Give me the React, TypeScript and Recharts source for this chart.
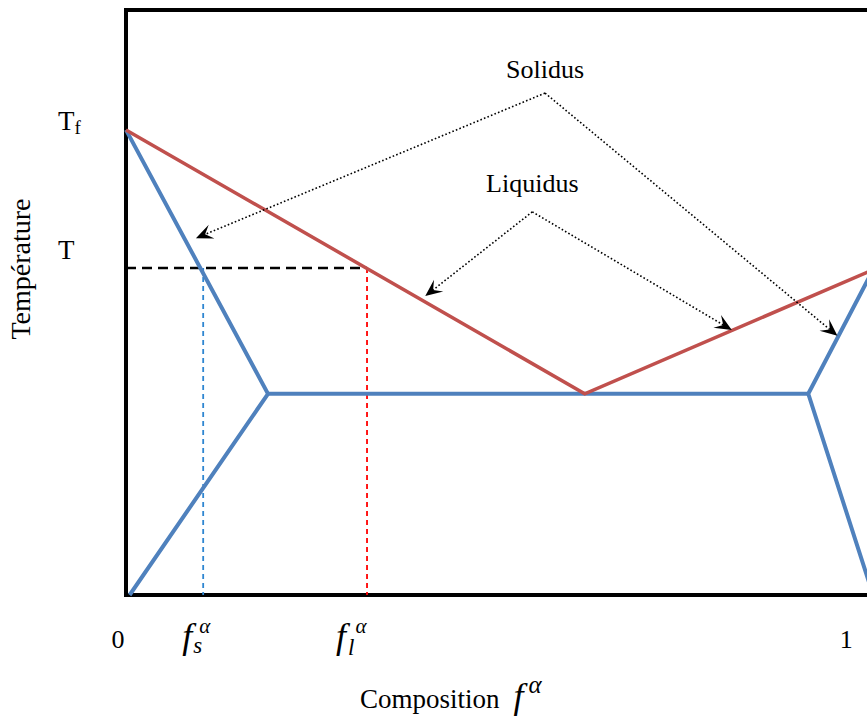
import {
  LineChart,
  Line,
  XAxis,
  YAxis,
  ReferenceLine,
  ReferenceArea,
  ReferenceDot,
} from 'recharts';

const SERIF = '"Liberation Serif", "Times New Roman", Times, serif';
const RED = '#C0504D';
const BLUE = '#4F81BD';

// composition axis runs a little past 1, temperature is in arbitrary units (0..100)
const X_MAX = 1.03;
const T_MAX = 100;

const T_F = 79.5; // melting point of the pure solvent
const T_CUT = 55.9; // isotherm T
const X_S = 0.106; // solid composition at T
const X_L = 0.331; // liquid composition at T

const LIQUIDUS_X = [0, 0.63, 1.026];
const LIQUIDUS_T = [79.5, 34.4, 55.6];

const SOLIDUS_LEFT_X = [0, 0.195, 0.005];
const SOLIDUS_LEFT_T = [79.5, 34.4, 0];

const EUTECTIC_X = [0.195, 0.937];
const EUTECTIC_T = [34.4, 34.4];

const SOLIDUS_RIGHT_X = [1.026, 0.937, 1.026];
const SOLIDUS_RIGHT_T = [55.6, 34.4, 0];

const X_TICKS = [0, X_S, X_L, 1];
const X_TICK_LABELS = ['0', 'f', 'f', '1'];
const X_TICK_SUBS = ['', 's', 'l', ''];

const Y_TICKS = [T_CUT, T_F];
const Y_TICK_LABELS = ['T', 'T'];
const Y_TICK_SUBS = ['', 'f'];

// annotation arrows: apex of the dotted lines and the arrow tips
const SOLIDUS_APEX = { x: 0.5755, t: 85.8 };
const SOLIDUS_TIPS = [
  { x: 0.096, t: 61.0 },
  { x: 0.977, t: 44.3 },
];
const LIQUIDUS_APEX = { x: 0.558, t: 65.5 };
const LIQUIDUS_TIPS = [
  { x: 0.411, t: 51.1 },
  { x: 0.832, t: 45.3 },
];

const toPoints = (xs: number[], ts: number[]) => xs.map((x, i) => ({ x, t: ts[i] }));

const liquidus = toPoints(LIQUIDUS_X, LIQUIDUS_T);
const solidusLeft = toPoints(SOLIDUS_LEFT_X, SOLIDUS_LEFT_T);
const eutectic = toPoints(EUTECTIC_X, EUTECTIC_T);
const solidusRight = toPoints(SOLIDUS_RIGHT_X, SOLIDUS_RIGHT_T);

function DottedArrow(props: any) {
  const { x1, y1, x2, y2 } = props;
  if ([x1, y1, x2, y2].some((v) => typeof v !== 'number' || isNaN(v))) return null;
  const a = Math.atan2(y2 - y1, x2 - x1);
  const c = Math.cos(a);
  const s = Math.sin(a);
  const len = 17;
  const half = 7.5;
  const notch = 10;
  const bx = x2 - len * c;
  const by = y2 - len * s;
  const nx = x2 - notch * c;
  const ny = y2 - notch * s;
  return (
    <g>
      <line
        x1={x1}
        y1={y1}
        x2={nx}
        y2={ny}
        stroke="#000"
        strokeWidth={1.6}
        strokeDasharray="1.6 2.2"
      />
      <path
        d={`M${x2},${y2} L${bx - half * s},${by + half * c} L${nx},${ny} L${bx + half * s},${by - half * c} Z`}
        fill="#000"
      />
    </g>
  );
}

function CompositionTick({ x, y, index }: any) {
  const base = y + 53;
  const sub = X_TICK_SUBS[index];
  if (!sub) {
    return (
      <text x={x - 8} y={base} textAnchor="middle" fontSize={26} fontFamily={SERIF} fill="#000">
        {X_TICK_LABELS[index]}
      </text>
    );
  }
  const isS = sub === 's';
  return (
    <text x={isS ? x - 21 : x - 31} y={base} fill="#000" fontFamily={SERIF} fontStyle="italic">
      <tspan fontSize={36}>{X_TICK_LABELS[index]}</tspan>
      <tspan fontSize={23} dx={isS ? 1 : 2} dy={isS ? 5 : 7}>
        {sub}
      </tspan>
      <tspan fontSize={21} dx={isS ? -3 : 1} dy={isS ? -20 : -22}>
        α
      </tspan>
    </text>
  );
}

function TemperatureTick({ y, index }: any) {
  const sub = Y_TICK_SUBS[index];
  return (
    <text x={58} y={sub ? y : y - 9} fill="#000" fontSize={27} fontFamily={SERIF}>
      {Y_TICK_LABELS[index]}
      {sub && (
        <tspan fontSize={19} dy={4}>
          {sub}
        </tspan>
      )}
    </text>
  );
}

function CompositionTitle() {
  return (
    <text x={360} y={708} fill="#000" fontSize={27} fontFamily={SERIF}>
      Composition
      <tspan fontStyle="italic" fontSize={36} dx={14}>
        f
      </tspan>
      <tspan fontStyle="italic" fontSize={25} dx={5} dy={-15}>
        α
      </tspan>
    </text>
  );
}

function TemperatureTitle() {
  return (
    <text
      x={30}
      y={269}
      fill="#000"
      fontSize={28}
      fontFamily={SERIF}
      textAnchor="middle"
      transform="rotate(-90, 30, 269)"
    >
      Température
    </text>
  );
}

function NoteLabel({ viewBox, text, offset }: any) {
  if (!viewBox) return null;
  return (
    <text
      x={viewBox.x + (viewBox.width || 0) / 2}
      y={viewBox.y - offset}
      textAnchor="middle"
      fill="#000"
      fontSize={26}
      fontFamily={SERIF}
    >
      {text}
    </text>
  );
}

export default function App() {
  return (
    <div
      style={{
        position: 'fixed',
        left: 0,
        top: 0,
        width: 867,
        height: 718,
        overflow: 'hidden',
        background: '#fff',
        fontFamily: SERIF,
      }}
    >
      <LineChart width={900} height={718} margin={{ top: 10, right: 24, bottom: 0, left: 0 }}>
        <XAxis
          type="number"
          dataKey="x"
          domain={[0, X_MAX]}
          ticks={X_TICKS}
          tick={<CompositionTick />}
          tickLine={false}
          axisLine={false}
          tickSize={0}
          tickMargin={0}
          height={123}
          interval={0}
          label={{ content: () => <CompositionTitle /> }}
        />
        <YAxis
          type="number"
          dataKey="t"
          domain={[0, T_MAX]}
          ticks={Y_TICKS}
          tick={<TemperatureTick />}
          tickLine={false}
          axisLine={false}
          tickSize={0}
          tickMargin={0}
          width={126}
          interval={0}
          label={{ content: () => <TemperatureTitle /> }}
        />

        <ReferenceLine
          segment={[
            { x: 0, y: T_CUT },
            { x: X_L, y: T_CUT },
          ]}
          stroke="#000"
          strokeWidth={2.6}
          strokeDasharray="10 6"
        />
        <ReferenceLine
          segment={[
            { x: X_S, y: T_CUT },
            { x: X_S, y: 0 },
          ]}
          stroke="#2E86D1"
          strokeWidth={1.8}
          strokeDasharray="5 4"
        />
        <ReferenceLine
          segment={[
            { x: X_L, y: T_CUT },
            { x: X_L, y: 0 },
          ]}
          stroke="#FF0000"
          strokeWidth={1.8}
          strokeDasharray="5 4"
        />

        <Line data={solidusLeft} dataKey="t" type="linear" stroke={BLUE} strokeWidth={4} dot={false} activeDot={false} isAnimationActive={false} />
        <Line data={eutectic} dataKey="t" type="linear" stroke={BLUE} strokeWidth={4} dot={false} activeDot={false} isAnimationActive={false} />
        <Line data={solidusRight} dataKey="t" type="linear" stroke={BLUE} strokeWidth={4} dot={false} activeDot={false} isAnimationActive={false} />
        <Line data={liquidus} dataKey="t" type="linear" stroke={RED} strokeWidth={3.5} dot={false} activeDot={false} isAnimationActive={false} />

        <ReferenceArea x1={0} x2={X_MAX} y1={0} y2={T_MAX} fill="none" fillOpacity={0} stroke="#000" strokeWidth={4} />

        {SOLIDUS_TIPS.map((p, i) => (
          <ReferenceLine
            key={`s${i}`}
            segment={[
              { x: SOLIDUS_APEX.x, y: SOLIDUS_APEX.t },
              { x: p.x, y: p.t },
            ]}
            shape={<DottedArrow />}
          />
        ))}
        {LIQUIDUS_TIPS.map((p, i) => (
          <ReferenceLine
            key={`l${i}`}
            segment={[
              { x: LIQUIDUS_APEX.x, y: LIQUIDUS_APEX.t },
              { x: p.x, y: p.t },
            ]}
            shape={<DottedArrow />}
          />
        ))}
        <ReferenceDot
          x={SOLIDUS_APEX.x}
          y={SOLIDUS_APEX.t}
          r={0}
          stroke="none"
          label={{ content: (props: any) => <NoteLabel {...props} text="Solidus" offset={15} /> }}
        />
        <ReferenceDot
          x={LIQUIDUS_APEX.x}
          y={LIQUIDUS_APEX.t}
          r={0}
          stroke="none"
          label={{ content: (props: any) => <NoteLabel {...props} text="Liquidus" offset={20} /> }}
        />
      </LineChart>
    </div>
  );
}
